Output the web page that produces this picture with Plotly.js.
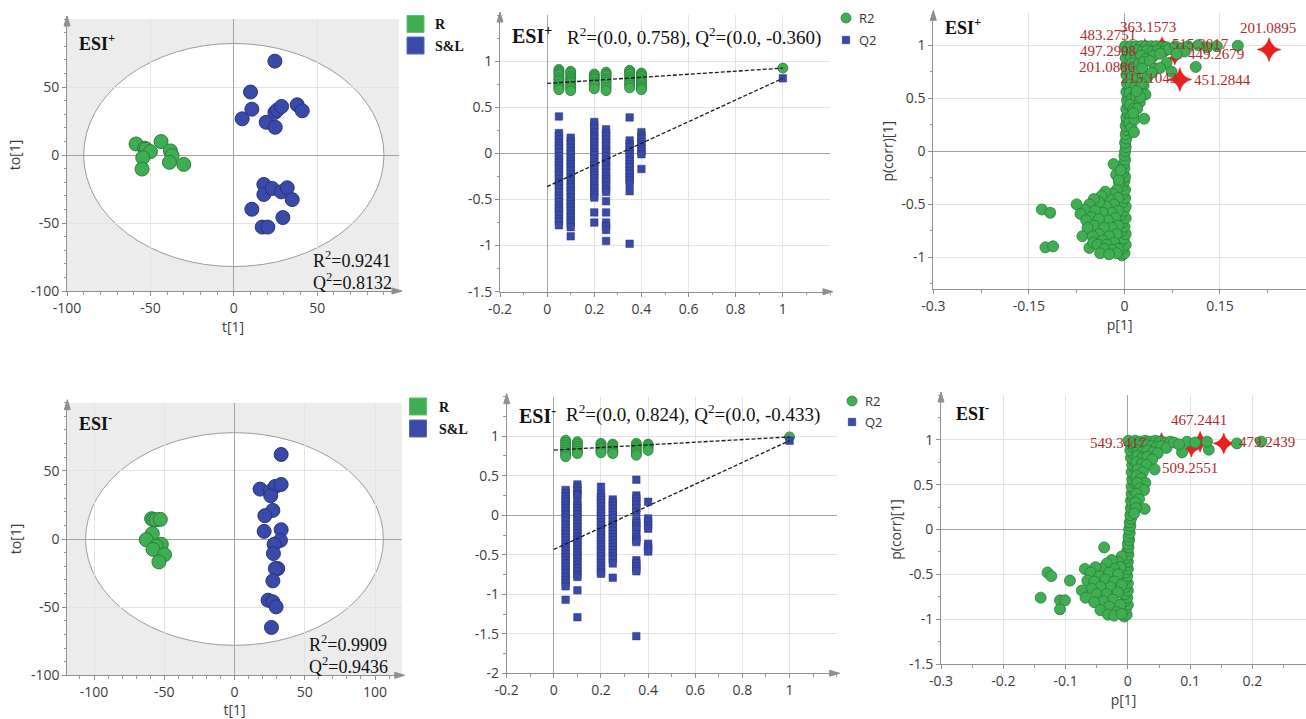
<!DOCTYPE html>
<html><head><meta charset="utf-8">
<script src="https://cdn.plot.ly/plotly-3.0.1.min.js"></script>
<style>html,body{margin:0;padding:0;background:#fff}#chart{width:1306px;height:719px}</style>
</head><body><div id="chart"></div>
<script>
// ================= DATA =================
// OPLS-DA score plots: t[1] vs to[1]
const scoreTopR_t   = [-58.6, -53.5, -52.6, -50.0, -54.6, -55.0, -43.6, -38.0, -37.0, -38.6, -30.0];
const scoreTopR_to  = [8.1, 5.0, 4.4, 2.5, -2.0, -10.3, 9.9, 3.0, -0.5, -5.4, -6.9];
const scoreTopSL_t  = [24.6, 10.0, 10.8, 5.0, 19.4, 24.6, 26.0, 28.6, 24.8, 38.0, 41.0, 18.0, 18.0, 23.0, 28.4, 32.0, 35.0, 10.8, 29.4, 17.0, 20.4];
const scoreTopSL_to = [69.0, 46.3, 33.7, 26.6, 24.1, 31.3, 33.0, 35.7, 20.4, 36.9, 32.5, -21.7, -29.0, -24.6, -27.1, -24.1, -32.8, -39.9, -46.0, -53.0, -53.0];
const scoreBotR_t   = [-59.0, -57.6, -55.7, -52.8, -58.5, -62.8, -52.1, -55.7, -58.0, -49.8, -53.8];
const scoreBotR_to  = [14.9, 14.1, 14.1, 14.4, 3.9, -0.5, -3.9, -5.1, -7.6, -11.5, -16.8];
const scoreBotSL_t  = [33.2, 18.2, 25.4, 28.9, 33.2, 25.8, 27.3, 21.6, 21.1, 33.2, 32.7, 28.2, 27.7, 30.8, 29.1, 27.3, 23.9, 27.3, 29.6, 26.3];
const scoreBotSL_to = [62.0, 36.6, 34.9, 38.5, 40.0, 31.7, 21.0, 17.1, 5.6, 6.8, -1.0, -3.9, -10.7, -21.7, -21.7, -30.7, -44.9, -46.1, -49.8, -64.9];
// Hotelling T2 ellipse half-widths [t, to]
const ellipseTop = [90, 82];
const ellipseBot = [106, 78];
const modelTop = {R2: 0.9241, Q2: 0.8132};
const modelBot = {R2: 0.9909, Q2: 0.9436};
const groups = ['R', 'S&L'];

// Permutation tests
const permX = [0.05, 0.1, 0.2, 0.25, 0.35, 0.4];
const permTopR2 = [
  [0.91, 0.89, 0.87, 0.85, 0.82, 0.80, 0.78, 0.75, 0.73, 0.71, 0.69],
  [0.89, 0.87, 0.84, 0.82, 0.80, 0.78, 0.76, 0.73, 0.71, 0.68],
  [0.86, 0.84, 0.82, 0.80, 0.77, 0.75, 0.73, 0.70],
  [0.88, 0.86, 0.84, 0.81, 0.79, 0.77, 0.74, 0.71, 0.68],
  [0.90, 0.88, 0.86, 0.83, 0.81, 0.79, 0.76, 0.74, 0.71],
  [0.87, 0.85, 0.83, 0.80, 0.78, 0.76, 0.73, 0.71, 0.69]
];
const permTopQ2 = [
  [0.40, 0.22, 0.19, 0.15, 0.11, 0.08, 0.05, 0.01, -0.03, -0.07, -0.10, -0.13, -0.17, -0.21, -0.24, -0.28, -0.32, -0.35, -0.38, -0.42, -0.46, -0.49, -0.53, -0.57, -0.60, -0.63, -0.67, -0.71, -0.74, -0.78],
  [0.17, 0.13, 0.10, 0.06, 0.02, -0.01, -0.05, -0.09, -0.12, -0.15, -0.19, -0.23, -0.26, -0.30, -0.34, -0.37, -0.41, -0.44, -0.48, -0.52, -0.55, -0.58, -0.62, -0.66, -0.69, -0.73, -0.76, -0.80, -0.90],
  [0.34, 0.30, 0.27, 0.23, 0.19, 0.16, 0.12, 0.08, 0.05, 0.01, -0.02, -0.06, -0.10, -0.13, -0.17, -0.21, -0.24, -0.27, -0.31, -0.35, -0.38, -0.42, -0.45, -0.48, -0.64, -0.75],
  [0.26, 0.22, 0.19, 0.15, 0.11, 0.08, 0.04, 0.01, -0.03, -0.07, -0.10, -0.14, -0.17, -0.21, -0.25, -0.28, -0.31, -0.35, -0.39, -0.42, -0.52, -0.64, -0.75, -0.79, -0.83, -0.95],
  [0.39, 0.14, 0.10, 0.07, 0.03, -0.01, -0.04, -0.08, -0.12, -0.15, -0.19, -0.22, -0.26, -0.29, -0.33, -0.41, -0.98],
  [0.23, 0.19, 0.16, 0.12, 0.09, 0.05, 0.02, -0.01, -0.17]
];
const permTopIntercept = {R2: 0.758, Q2: -0.360};
const permBotR2 = [
  [0.95, 0.92, 0.89, 0.86, 0.83, 0.80, 0.77, 0.74],
  [0.93, 0.90, 0.87, 0.84, 0.81, 0.78],
  [0.91, 0.89, 0.86, 0.84, 0.81, 0.79],
  [0.90, 0.88, 0.85, 0.82, 0.80, 0.78],
  [0.91, 0.88, 0.85, 0.82, 0.79, 0.76],
  [0.90, 0.88, 0.85, 0.82]
];
const permBotQ2 = [
  [0.32, 0.28, 0.24, 0.20, 0.17, 0.13, 0.09, 0.05, 0.01, -0.03, -0.07, -0.12, -0.16, -0.20, -0.24, -0.28, -0.32, -0.36, -0.40, -0.45, -0.49, -0.53, -0.57, -0.61, -0.65, -0.69, -0.73, -0.78, -0.82, -0.86, -0.90, -1.07],
  [0.39, 0.35, 0.31, 0.27, 0.25, 0.17, 0.13, 0.09, 0.05, 0.01, -0.03, -0.07, -0.11, -0.15, -0.19, -0.23, -0.27, -0.31, -0.35, -0.39, -0.43, -0.47, -0.51, -0.55, -0.59, -0.63, -0.67, -0.71, -0.75, -0.78, -0.95, -1.29],
  [0.36, 0.27, 0.23, 0.19, 0.15, 0.11, 0.07, 0.03, -0.01, -0.05, -0.09, -0.13, -0.17, -0.21, -0.25, -0.29, -0.33, -0.37, -0.40, -0.44, -0.48, -0.52, -0.56, -0.60, -0.64, -0.68, -0.72, -0.74],
  [0.20, 0.16, 0.12, 0.08, 0.04, 0.00, -0.04, -0.08, -0.12, -0.16, -0.20, -0.24, -0.28, -0.32, -0.36, -0.40, -0.44, -0.48, -0.52, -0.56, -0.61, -0.79],
  [0.45, 0.25, 0.21, 0.17, 0.13, 0.09, 0.04, -0.06, -0.10, -0.14, -0.17, -0.24, -0.28, -0.31, -0.34, -0.57, -0.61, -0.65, -0.68, -0.71, -1.53],
  [0.17, -0.04, -0.08, -0.13, -0.17, -0.36, -0.40, -0.43, -0.46]
];
const permBotIntercept = {R2: 0.824, Q2: -0.433};

// S-plots: [p[1], p(corr)[1]]
const splotTop = [
  [-0.004,-0.98],[0.000,-0.96],[-0.007,-0.93],[-0.002,-0.91],[0.002,-0.88],[-0.005,-0.85],[-0.001,-0.82],[0.002,-0.78],[-0.004,-0.75],[0.000,-0.71],
  [-0.003,-0.67],[0.002,-0.63],[-0.005,-0.60],[-0.001,-0.56],[0.002,-0.52],[-0.003,-0.48],[0.001,-0.44],[-0.002,-0.40],[0.001,-0.36],[-0.003,-0.32],
  [0.000,-0.28],[0.001,-0.24],[-0.002,-0.20],[0.000,-0.16],[-0.001,-0.12],[0.001,-0.08],[0.000,-0.04],[0.001,0.00],[0.002,0.04],[0.001,0.08],
  [0.003,0.12],[0.002,0.16],[0.004,0.20],[0.002,0.24],[0.004,0.28],[0.003,0.32],[0.005,0.36],[0.003,0.40],[0.006,0.44],[0.004,0.48],
  [0.006,0.52],[0.003,0.56],[0.007,0.60],[0.004,0.64],[0.007,0.68],[0.003,0.72],[0.006,0.76],[0.002,0.80],[0.005,0.84],[0.002,0.88],
  [0.006,0.92],[0.003,0.96],[0.001,0.99],
  [0.010,0.99],[0.018,0.99],[0.026,0.99],[0.034,0.99],[0.042,0.99],[0.050,0.99],[0.058,0.98],[0.066,0.98],[0.012,0.94],[0.020,0.95],
  [0.028,0.94],[0.036,0.95],[0.044,0.94],[0.052,0.95],[0.062,0.94],[0.070,0.96],[0.010,0.89],[0.018,0.88],[0.026,0.90],[0.034,0.87],
  [0.046,0.90],[0.056,0.92],[0.012,0.83],[0.022,0.82],[0.030,0.84],[0.040,0.85],[0.010,0.77],[0.018,0.75],[0.028,0.78],[0.012,0.70],
  [0.020,0.68],[0.010,0.63],[0.016,0.60],[0.008,0.55],[0.012,0.50],[0.009,0.44],[0.014,0.40],[0.010,0.33],[0.008,0.27],[0.011,0.22],
  [0.022,0.58],[0.030,0.62],[0.036,0.70],[0.048,0.78],[0.018,0.52],[0.024,0.46],[0.020,0.40],[0.016,0.30],
  [0.080,0.99],[0.090,0.97],[0.100,0.99],[0.116,1.00],[0.130,0.98],[0.145,0.99],[0.178,0.995],[0.094,0.94],[0.112,0.795],[0.066,0.83],
  [0.056,0.785],[0.043,0.74],[0.074,0.75],[0.033,0.535],[0.025,0.51],[0.031,0.307],[0.015,0.18],[0.014,0.36],[0.027,0.64],[0.019,0.567],[0.082,0.92],
  [-0.008,-0.30],[-0.012,-0.36],[-0.018,-0.40],[-0.010,-0.44],[-0.024,-0.45],[-0.030,-0.38],[-0.036,-0.42],[-0.016,-0.50],[-0.028,-0.52],[-0.040,-0.48],
  [-0.048,-0.45],[-0.055,-0.50],[-0.062,-0.55],[-0.075,-0.50],[-0.069,-0.59],[-0.010,-0.56],[-0.020,-0.58],[-0.034,-0.58],[-0.046,-0.56],[-0.052,-0.62],
  [-0.060,-0.65],[-0.014,-0.63],[-0.026,-0.65],[-0.040,-0.64],[-0.048,-0.70],[-0.058,-0.72],[-0.066,-0.80],[-0.010,-0.70],[-0.020,-0.72],[-0.032,-0.72],
  [-0.040,-0.78],[-0.050,-0.80],[-0.055,-0.91],[-0.049,-0.86],[-0.012,-0.78],[-0.024,-0.80],[-0.034,-0.84],[-0.042,-0.88],[-0.016,-0.86],[-0.028,-0.88],
  [-0.010,-0.92],[-0.020,-0.93],[-0.032,-0.92],[-0.038,-0.96],[-0.012,-0.96],[-0.024,-0.97],[-0.017,-0.12],[-0.013,-0.22],[-0.009,-0.27],[-0.006,-0.18],
  [-0.1296,-0.548],[-0.1165,-0.579],[-0.124,-0.905],[-0.112,-0.895]
];
const splotBot = [
  [-0.006,-0.97],[-0.002,-0.95],[-0.008,-0.91],[-0.003,-0.88],[0.000,-0.84],[-0.005,-0.80],[-0.001,-0.76],[-0.004,-0.72],[0.000,-0.68],[-0.003,-0.64],
  [0.000,-0.60],[-0.004,-0.56],[-0.001,-0.52],[-0.003,-0.48],[0.000,-0.44],[-0.002,-0.40],[0.000,-0.36],[-0.002,-0.32],[0.001,-0.28],[-0.001,-0.24],
  [0.001,-0.20],[0.000,-0.16],[0.002,-0.12],[0.001,-0.08],[0.003,-0.04],[0.002,0.00],[0.004,0.04],[0.003,0.08],[0.005,0.12],[0.004,0.16],
  [0.006,0.20],[0.005,0.24],[0.007,0.28],[0.005,0.32],[0.008,0.36],[0.006,0.40],[0.009,0.44],[0.006,0.48],[0.010,0.52],[0.007,0.56],
  [0.010,0.60],[0.006,0.64],[0.011,0.68],[0.007,0.72],[0.010,0.76],[0.005,0.80],[0.009,0.84],[0.004,0.88],[0.008,0.92],[0.003,0.96],[0.001,0.99],
  [0.012,0.99],[0.020,0.98],[0.028,0.99],[0.036,0.98],[0.044,0.99],[0.052,0.98],[0.060,0.97],[0.068,0.98],[0.014,0.94],[0.022,0.93],
  [0.030,0.94],[0.038,0.93],[0.046,0.92],[0.054,0.93],[0.062,0.91],[0.016,0.88],[0.024,0.87],[0.032,0.88],[0.040,0.86],[0.048,0.85],
  [0.015,0.82],[0.023,0.80],[0.031,0.81],[0.039,0.78],[0.014,0.75],[0.022,0.73],[0.030,0.72],[0.043,0.67],[0.016,0.67],[0.024,0.64],
  [0.014,0.60],[0.021,0.57],[0.028,0.52],[0.015,0.52],[0.019,0.46],[0.026,0.44],[0.014,0.40],[0.018,0.34],[0.012,0.30],[0.027,0.23],
  [0.013,0.24],[0.010,0.18],
  [0.074,0.97],[0.087,0.86],[0.095,0.98],[0.108,0.97],[0.130,0.89],[0.127,0.98],[0.175,0.96],[0.214,0.98],[0.082,0.95],
  [-0.038,-0.20],[-0.010,-0.30],[-0.016,-0.36],[-0.026,-0.34],[-0.034,-0.38],[-0.012,-0.42],[-0.022,-0.44],[-0.042,-0.44],[-0.052,-0.42],[-0.069,-0.44],
  [-0.060,-0.48],[-0.030,-0.48],[-0.016,-0.50],[-0.046,-0.52],[-0.065,-0.57],[-0.054,-0.58],[-0.036,-0.56],[-0.022,-0.58],[-0.010,-0.62],[-0.028,-0.64],
  [-0.044,-0.64],[-0.058,-0.66],[-0.074,-0.68],[-0.068,-0.76],[-0.050,-0.72],[-0.034,-0.72],[-0.016,-0.70],[-0.024,-0.78],[-0.040,-0.80],[-0.054,-0.81],
  [-0.012,-0.84],[-0.030,-0.86],[-0.044,-0.90],[-0.018,-0.92],[-0.032,-0.95],[-0.022,-0.96],[-0.010,-0.94],
  [-0.140,-0.76],[-0.129,-0.48],[-0.123,-0.52],[-0.109,-0.79],[-0.101,-0.79],[-0.109,-0.89],[-0.093,-0.57]
];
// Marked differential features (m/z) with their S-plot coordinates
const featTopMz    = ['201.0895', '451.2844', '449.2679', '515.3017', '363.1573', '483.2751', '497.2908', '201.0886', '215.1043'];
const featTopP     = [0.227, 0.087, 0.079, 0.070, 0.059, 0.032, 0.030, 0.028, 0.036];
const featTopPcorr = [0.958, 0.676, 0.880, 0.970, 1.020, 1.010, 0.930, 0.840, 0.730];
const featBotMz    = ['467.2441', '479.2439', '509.2551', '549.3417'];
const featBotP     = [0.116, 0.154, 0.102, 0.054];
const featBotPcorr = [0.978, 0.960, 0.900, 1.010];

// ================= STYLE / LAYOUT =================
const W = 1306, H = 719;
const px = v => v / W, py = v => 1 - v / H;
const SERIF = 'Liberation Serif, Times New Roman, serif';
const SANS = 'Open Sans, Noto Sans, sans-serif';
const GREEN = '#3fae52', GREEN_LINE = '#2a7c3a';
const BLUE = '#3a4aa8', BLUE_LINE = '#28337e';
const RED = '#e8211f', LABEL_RED = '#b02a2e';
const topStarSize = [17, 17, 10, 8, 9, 8, 8, 8, 8];
const topLabelShift = [[-1, 22], [43, 0], [41, 4], [31, 4], [-14, 16], [-37, 9], [-36, 2], [-35, -5], [2, -4]];
const botStarSize = [15, 15, 12, 9];
const botLabelShift = [[-1, 22], [43, 1], [-1, -19], [-43, -4]];
const AXC = '#8f8f8f';

function ax(extra) {
  return Object.assign({
    showline: true, linecolor: AXC, linewidth: 1,
    ticks: 'outside', ticklen: 4, tickcolor: AXC,
    showgrid: true, gridcolor: '#e3e3e3', gridwidth: 1,
    zeroline: true, zerolinecolor: '#a3a3a3', zerolinewidth: 1,
    tickfont: {family: SANS, size: 14, color: '#3c3c3c'},
    fixedrange: true, automargin: false, tickmode: 'array'
  }, extra);
}
function minor(d) { return {dtick: d, ticks: 'outside', ticklen: 2.5, tickcolor: '#9a9a9a', showgrid: false}; }
function ttl(t, so) { return {text: t, font: {family: SANS, size: 14, color: '#3c3c3c'}, standoff: so}; }
const tt = v => v.map(String);

const xA = [-100, -50, 0, 50], yA = [-100, -50, 0, 50];
const xB = [-0.2, 0, 0.2, 0.4, 0.6, 0.8, 1], yB = [-1.5, -1, -0.5, 0, 0.5, 1];
const xC = [-0.3, -0.15, 0, 0.15], yC = [-1, -0.5, 0, 0.5, 1];
const xD = [-100, -50, 0, 50, 100], yD = [-100, -50, 0, 50];
const yE = [-2, -1.5, -1, -0.5, 0, 0.5, 1];
const xF = [-0.3, -0.2, -0.1, 0, 0.1, 0.2], yF = [-1.5, -1, -0.5, 0, 0.5, 1];

const layout = {
  width: W, height: H, margin: {l: 0, r: 0, t: 0, b: 0},
  paper_bgcolor: '#ffffff', plot_bgcolor: '#ffffff', showlegend: false,
  xaxis:  ax({domain: [px(67), px(399)], range: [-100, 99], anchor: 'y', tickvals: xA, ticktext: tt(xA), minor: minor(10), title: ttl('t[1]', 6)}),
  yaxis:  ax({domain: [py(291), py(19)], range: [-100, 100], anchor: 'x', tickvals: yA, ticktext: tt(yA), minor: minor(10), title: ttl('to[1]', 6)}),
  xaxis2: ax({domain: [px(500), px(830)], range: [-0.2, 1.2], anchor: 'y2', tickvals: xB, ticktext: tt(xB), minor: minor(0.1)}),
  yaxis2: ax({domain: [py(291.7), py(15)], range: [-1.5, 1.5], anchor: 'x2', tickvals: yB, ticktext: tt(yB), minor: minor(0.25)}),
  xaxis3: ax({domain: [px(933.3), 1], range: [-0.3, 0.285], anchor: 'y3', tickvals: xC, ticktext: tt(xC), minor: minor(0.075), title: ttl('p[1]', 6)}),
  yaxis3: ax({domain: [py(289.3), py(13.3)], range: [-1.3, 1.3], anchor: 'x3', tickvals: yC, ticktext: tt(yC), minor: minor(0.25), title: ttl('p(corr)[1]', 4)}),
  xaxis4: ax({domain: [px(67.3), px(401.7)], range: [-119, 119], anchor: 'y4', tickvals: xD, ticktext: tt(xD), minor: minor(10), title: ttl('t[1]', 6)}),
  yaxis4: ax({domain: [py(675.3), py(402.7)], range: [-100, 100], anchor: 'x4', tickvals: yD, ticktext: tt(yD), minor: minor(10), title: ttl('to[1]', 6)}),
  xaxis5: ax({domain: [px(506.7), px(836.7)], range: [-0.2, 1.2], anchor: 'y5', tickvals: xB, ticktext: tt(xB), minor: minor(0.1)}),
  yaxis5: ax({domain: [py(673.3), py(396.7)], range: [-2, 1.5], anchor: 'x5', tickvals: yE, ticktext: tt(yE), minor: minor(0.25)}),
  xaxis6: ax({domain: [px(941), 1], range: [-0.3, 0.286], anchor: 'y6', tickvals: xF, ticktext: tt(xF), minor: minor(0.05), title: ttl('p[1]', 6)}),
  yaxis6: ax({domain: [py(664), py(395)], range: [-1.5, 1.5], anchor: 'x6', tickvals: yF, ticktext: tt(yF), minor: minor(0.25), title: ttl('p(corr)[1]', 4)}),
  shapes: [], annotations: []
};

// grey score-plot backgrounds + ellipses
[['x', 'y', ellipseTop], ['x4', 'y4', ellipseBot]].forEach(([xr, yr, e]) => {
  layout.shapes.push({type: 'rect', xref: xr + ' domain', yref: yr + ' domain', x0: 0, x1: 1, y0: 0, y1: 1,
    fillcolor: '#ececec', line: {width: 0}, layer: 'below'});
  layout.shapes.push({type: 'circle', xref: xr, yref: yr, x0: -e[0], x1: e[0], y0: -e[1], y1: e[1],
    fillcolor: '#ffffff', line: {color: '#9c9c9c', width: 1}, layer: 'below'});
});

// axis arrowheads (pixel-sized paths anchored at the axis ends)
function arrowY(a) {
  layout.shapes.push({type: 'path', xref: 'x' + a + ' domain', yref: 'y' + a + ' domain', xsizemode: 'pixel', ysizemode: 'pixel',
    xanchor: 0, yanchor: 1, path: 'M -3 -7 L 0 3 L 3 -7 Z', fillcolor: AXC, line: {color: AXC, width: 1}});
}
function arrowX(a) {
  layout.shapes.push({type: 'path', xref: 'x' + a + ' domain', yref: 'y' + a + ' domain', xsizemode: 'pixel', ysizemode: 'pixel',
    xanchor: 1, yanchor: 0, path: 'M -7 -3 L 3 0 L -7 3 Z', fillcolor: AXC, line: {color: AXC, width: 1}});
}
['', '2', '3', '4', '5', '6'].forEach(a => arrowY(a));
['', '2', '4', '5'].forEach(a => arrowX(a));

function note(x, y, text, size, family, anchor, color) {
  layout.annotations.push({xref: 'paper', yref: 'paper', x: px(x), y: py(y), text: text, showarrow: false,
    xanchor: anchor || 'left', yanchor: 'middle', font: {family: family, size: size, color: color || '#111111'}});
}
// panel labels & statistics
note(77, 43, '<b>ESI<sup>+</sup></b>', 18, SERIF);
note(311, 259, 'R<sup>2</sup>=' + modelTop.R2.toFixed(4), 18, SERIF);
note(311, 282, 'Q<sup>2</sup>=' + modelTop.Q2.toFixed(4), 18, SERIF);
note(510, 35, '<b>ESI<sup>+</sup></b>', 20, SERIF);
note(565, 36, 'R<sup>2</sup>=(0.0, ' + permTopIntercept.R2.toFixed(3) + '), Q<sup>2</sup>=(0.0, ' + permTopIntercept.Q2.toFixed(3) + ')', 19, SERIF);
note(943, 27, '<b>ESI<sup>+</sup></b>', 18, SERIF);
note(77, 422, '<b>ESI<sup>-</sup></b>', 18, SERIF);
note(307, 643, 'R<sup>2</sup>=' + modelBot.R2.toFixed(4), 18, SERIF);
note(307, 665, 'Q<sup>2</sup>=' + modelBot.Q2.toFixed(4), 18, SERIF);
note(517, 415, '<b>ESI<sup>-</sup></b>', 20, SERIF);
note(564, 414, 'R<sup>2</sup>=(0.0, ' + permBotIntercept.R2.toFixed(3) + '), Q<sup>2</sup>=(0.0, ' + permBotIntercept.Q2.toFixed(3) + ')', 19, SERIF);
note(954, 412, '<b>ESI<sup>-</sup></b>', 18, SERIF);

// score-plot legends
function sqLegend(x0, y0, y1, tx) {
  layout.shapes.push({type: 'rect', xref: 'paper', yref: 'paper', x0: px(x0), x1: px(x0 + 17), y0: py(y0 + 17), y1: py(y0), fillcolor: GREEN, line: {color: '#5fc070', width: 1}});
  layout.shapes.push({type: 'rect', xref: 'paper', yref: 'paper', x0: px(x0), x1: px(x0 + 17), y0: py(y1 + 17), y1: py(y1), fillcolor: BLUE, line: {color: '#5a68b8', width: 1}});
  note(tx, y0 + 9, '<b>' + groups[0] + '</b>', 14, SERIF);
  note(tx, y1 + 9, '<b>' + groups[1].replace('&', '&amp;') + '</b>', 14, SERIF);
}
sqLegend(407, 15.5, 37, 433);
sqLegend(409.5, 398, 420, 437);
// permutation legends
function permLegend(cx, cy1, cy2) {
  layout.shapes.push({type: 'circle', xref: 'paper', yref: 'paper', x0: px(cx - 5), x1: px(cx + 5), y0: py(cy1 + 5), y1: py(cy1 - 5), fillcolor: GREEN, line: {color: GREEN_LINE, width: 0.8}});
  layout.shapes.push({type: 'rect', xref: 'paper', yref: 'paper', x0: px(cx - 3.7), x1: px(cx + 3.7), y0: py(cy2 + 3.7), y1: py(cy2 - 3.7), fillcolor: BLUE, line: {color: BLUE_LINE, width: 0.6}});
  note(cx + 11, cy1, 'R2', 13, SANS, 'left', '#333333');
  note(cx + 11, cy2, 'Q2', 13, SANS, 'left', '#333333');
}
permLegend(846, 18, 40);
permLegend(852, 401, 422);

// feature labels on S-plots
featTopMz.forEach((m, i) => layout.annotations.push({xref: 'x3', yref: 'y3', x: featTopP[i], y: featTopPcorr[i], text: m, showarrow: false,
  xshift: topLabelShift[i][0], yshift: topLabelShift[i][1], font: {family: SERIF, size: 15, color: LABEL_RED}}));
featBotMz.forEach((m, i) => layout.annotations.push({xref: 'x6', yref: 'y6', x: featBotP[i], y: featBotPcorr[i], text: m, showarrow: false,
  xshift: botLabelShift[i][0], yshift: botLabelShift[i][1], font: {family: SERIF, size: 15, color: LABEL_RED}}));

// ================= TRACES =================
const traces = [];
function scoreTraces(xa, ya, rt, rto, st, sto) {
  traces.push({type: 'scatter', mode: 'markers', name: groups[0], x: rt, y: rto, xaxis: xa, yaxis: ya,
    marker: {size: 14, color: GREEN, opacity: 1, line: {color: GREEN_LINE, width: 1}}, hoverinfo: 'x+y'});
  traces.push({type: 'scatter', mode: 'markers', name: groups[1], x: st, y: sto, xaxis: xa, yaxis: ya,
    marker: {size: 14, color: BLUE, opacity: 1, line: {color: BLUE_LINE, width: 1}}, hoverinfo: 'x+y'});
}
scoreTraces('x', 'y', scoreTopR_t, scoreTopR_to, scoreTopSL_t, scoreTopSL_to);
scoreTraces('x4', 'y4', scoreBotR_t, scoreBotR_to, scoreBotSL_t, scoreBotSL_to);

function flat(cols) { const X = [], Y = []; cols.forEach((c, i) => c.forEach(v => { X.push(permX[i]); Y.push(v); })); return {X, Y}; }
function permTraces(xa, ya, r2cols, q2cols, model, icpt) {
  const r = flat(r2cols), q = flat(q2cols);
  traces.push({type: 'scatter', mode: 'markers', name: 'R2', x: r.X.concat([1]), y: r.Y.concat([model.R2]), xaxis: xa, yaxis: ya,
    marker: {symbol: 'circle', size: 10, color: GREEN, opacity: 1, line: {color: GREEN_LINE, width: 0.8}}});
  traces.push({type: 'scatter', mode: 'markers', name: 'Q2', x: q.X.concat([1]), y: q.Y.concat([model.Q2]), xaxis: xa, yaxis: ya,
    marker: {symbol: 'square', size: 7.5, color: BLUE, opacity: 1, line: {color: BLUE_LINE, width: 0.5}}});
  traces.push({type: 'scatter', mode: 'lines', x: [0, 1], y: [icpt.R2, model.R2], xaxis: xa, yaxis: ya,
    line: {color: '#1a1a1a', width: 1.3, dash: '4px,2px'}, hoverinfo: 'skip'});
  traces.push({type: 'scatter', mode: 'lines', x: [0, 1], y: [icpt.Q2, model.Q2], xaxis: xa, yaxis: ya,
    line: {color: '#1a1a1a', width: 1.3, dash: '4px,2px'}, hoverinfo: 'skip'});
}
permTraces('x2', 'y2', permTopR2, permTopQ2, modelTop, permTopIntercept);
permTraces('x5', 'y5', permBotR2, permBotQ2, modelBot, permBotIntercept);

function splotTraces(xa, ya, pts, fp, fc, fm, sizes) {
  traces.push({type: 'scatter', mode: 'markers', x: fp, y: fc, text: fm, xaxis: xa, yaxis: ya,
    marker: {symbol: 'star-diamond', size: sizes, color: RED, opacity: 1, line: {color: '#d01818', width: 0.5}}, hoverinfo: 'text'});
  traces.push({type: 'scatter', mode: 'markers', x: pts.map(d => d[0]), y: pts.map(d => d[1]), xaxis: xa, yaxis: ya,
    marker: {size: 11, color: GREEN, opacity: 1, line: {color: GREEN_LINE, width: 0.8}}, hoverinfo: 'x+y'});
}
splotTraces('x3', 'y3', splotTop, featTopP, featTopPcorr, featTopMz, topStarSize);
splotTraces('x6', 'y6', splotBot, featBotP, featBotPcorr, featBotMz, botStarSize);

Plotly.newPlot('chart', traces, layout, {staticPlot: true, displayModeBar: false});
</script>
</body></html>
